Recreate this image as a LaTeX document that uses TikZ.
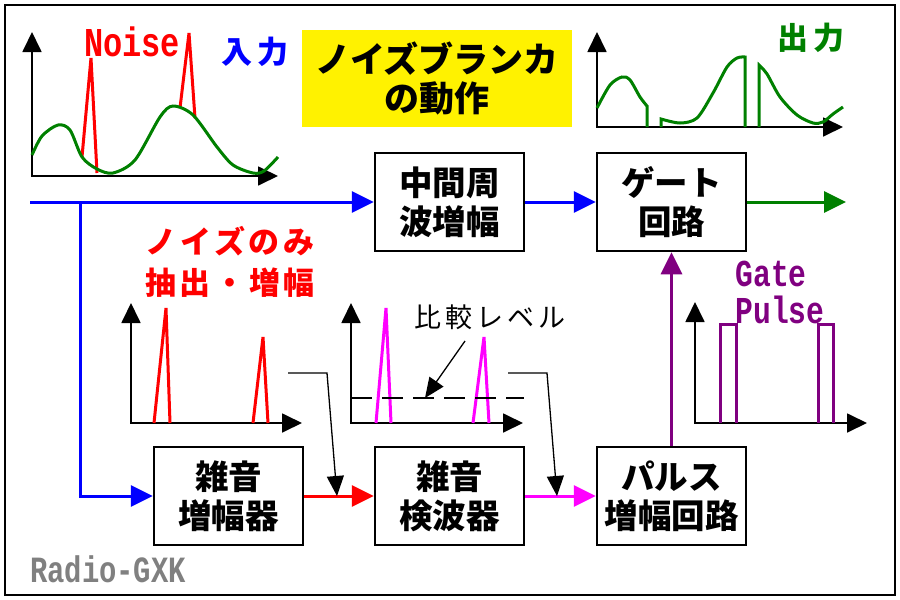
\documentclass[tikz,border=0pt]{standalone}
\usepackage{fontspec}
\usepackage{xcolor}
\usepackage{tikz}
\usetikzlibrary{arrows.meta}
\newfontfamily\jp{Noto Sans CJK JP}
\newfontfamily\mono{Liberation Mono}[FakeStretch=0.78]
\definecolor{sigGreen}{RGB}{0,128,0}
\definecolor{gatePurple}{RGB}{128,0,128}
\definecolor{detMagenta}{RGB}{255,0,255}
\tikzset{block/.style={draw,line width=2.5pt,fill=white,
                       minimum width=149pt,minimum height=98pt,align=center,
                       font={\jp\bfseries\fontsize{33.5}{39}\selectfont}}}
\tikzset{flow/.style={line width=3pt,-{Triangle[length=22pt,width=21pt]}}}

\begin{document}
\begin{tikzpicture}[x=1pt,y=-1pt,
    % styles for clarity
    axes/.style   ={line width=1.8pt,
                    {Triangle[length=20pt,width=19pt]}-{Triangle[length=20pt,width=19pt]}},
    wave/.style   ={line width=3pt},
    pointer/.style={line width=1.3pt,-{Triangle[length=20pt,width=17pt]}},
    jplabel/.style={font={\jp\bfseries\fontsize{31}{41}\selectfont\addfontfeatures{LetterSpace=18}}},
    monolabel/.style={font={\mono\bfseries\fontsize{38}{37}\selectfont}}
  ]
    \useasboundingbox (0,0) rectangle (900,600);
    \draw[line width=2pt] (5,5) rectangle (895,595);

    % title
    \node[fill=yellow,minimum width=270pt,minimum height=97pt,align=center,
          font={\jp\bfseries\fontsize{35}{39}\selectfont}] (title) at (437,78.5)
          {ノイズブランカ\\の動作};

    % blocks
    \node[block] (ifamp) at (449.5,202) {中間周\\波増幅};
    \node[block] (gate)  at (671.5,202) {ゲート\\回路};
    \node[block] (namp)  at (228.5,496) {雑音\\増幅器};
    \node[block] (ndet)  at (449.5,496) {雑音\\検波器};
    \node[block] (pamp)  at (671.5,496) {パルス\\増幅回路};

    \coordinate (in)    at (30,202);
    \coordinate (split) at (80,202);
    \coordinate (out)   at (846,202);

    \draw[flow,blue] (in) -- (ifamp.west);
    \draw[flow,blue] (split) |- (namp.west);
    \draw[flow,blue] (ifamp) -- (gate);
    \draw[flow,sigGreen] (gate) -- (out);
    \draw[flow,red] (namp) -- (ndet);
    \draw[flow,detMagenta] (ndet) -- (pamp);
    \draw[flow,gatePurple] (pamp) -- (gate);

    % axes of the five small graphs
    \foreach \ox/\oy/\ty/\rx in {32/176/32/278, 597/127/32/843,
                                 131/423/303/302, 351/423/303/523, 695/423/302/867}
      \draw[axes] (\ox,\ty) -- (\ox,\oy) -- (\rx,\oy);

    % input: signal with noise
    \draw[wave,red] (82,157) -- (91,58) -- (97,173);
    \draw[wave,red] (180,108) -- (189,33) -- (195,118);
    \draw[wave,sigGreen] plot[smooth] coordinates {(32,155) (42,136) (58,125) (70,130)
      (82,157) (97,169) (113,173) (135,160) (160,117) (173,106) (193,115) (217,147)
      (233,165) (253,173) (264,171) (278,157)};

    % output: gated signal
    \draw[wave,sigGreen] plot[smooth] coordinates {(597,108) (610,85) (622,77) (630,80)
      (640,97) (647,106)} -- (647,127);
    \draw[wave,sigGreen] (661,127) -- plot[smooth] coordinates {(661,119) (680,123)
      (697,118) (713,93) (727,67) (737,58) (745,57)} -- (745,127);
    \draw[wave,sigGreen] (759,127) -- plot[smooth] coordinates {(759,65) (767,74)
      (780,97) (797,115) (813,123) (823,122) (833,114) (843,107)};

    % noise only
    \draw[wave,red] (154,423) -- (166,308) -- (170,423);
    \draw[wave,red] (253,423) -- (263,337) -- (268,423);

    % detector output and comparison level
    \draw[wave,detMagenta] (376,423) -- (386,308) -- (391,423);
    \draw[wave,detMagenta] (473,423) -- (484,337) -- (489,423);
    \draw[line width=1.5pt,dash pattern=on 21pt off 10pt] (351,398) -- (524,398);

    % gate pulses
    \draw[wave,gatePurple] (720,423) -- (720,324) -- (736,324) -- (736,423);
    \draw[wave,gatePurple] (818,423) -- (818,324) -- (833,324) -- (833,423);

    % labels
    \node[monolabel,red,font={\mono\bfseries\fontsize{41}{41}\selectfont}] (noise) at (132,42) {Noise};
    \node[jplabel,blue] (inlabel) at (255,52) {入力};
    \node[jplabel,sigGreen] (outlabel) at (811,38) {出力};
    \node[jplabel,red,align=center,font={\jp\bfseries\fontsize{31}{41}\selectfont\addfontfeatures{LetterSpace=12}}]
      (nlabel) at (230,262) {ノイズのみ\\抽出・増幅};
    \node[font={\jp\fontsize{27}{27}\selectfont\addfontfeatures{LetterSpace=14}}] (lvl) at (490,317) {比較レベル};
    \node[monolabel,gatePurple,align=left,anchor=west] (gplabel) at (732,292) {Gate\\Pulse};
    \node[monolabel,gray,font={\mono\bfseries\fontsize{37}{37}\selectfont}] (credit) at (108,569) {Radio-GXK};

    % pointers
    \coordinate (lvlpt) at (425,398);
    \coordinate (cmp1) at (288,373);
    \coordinate (cmp2) at (508,373);
    \draw[pointer] ([shift={(-25,8)}]lvl.south) -- (lvlpt);
    \draw[pointer] (cmp1) -- ++(39,0) -- (337,496);
    \draw[pointer] (cmp2) -- ++(39,0) -- (557,496);
  \end{tikzpicture}
\end{document}
